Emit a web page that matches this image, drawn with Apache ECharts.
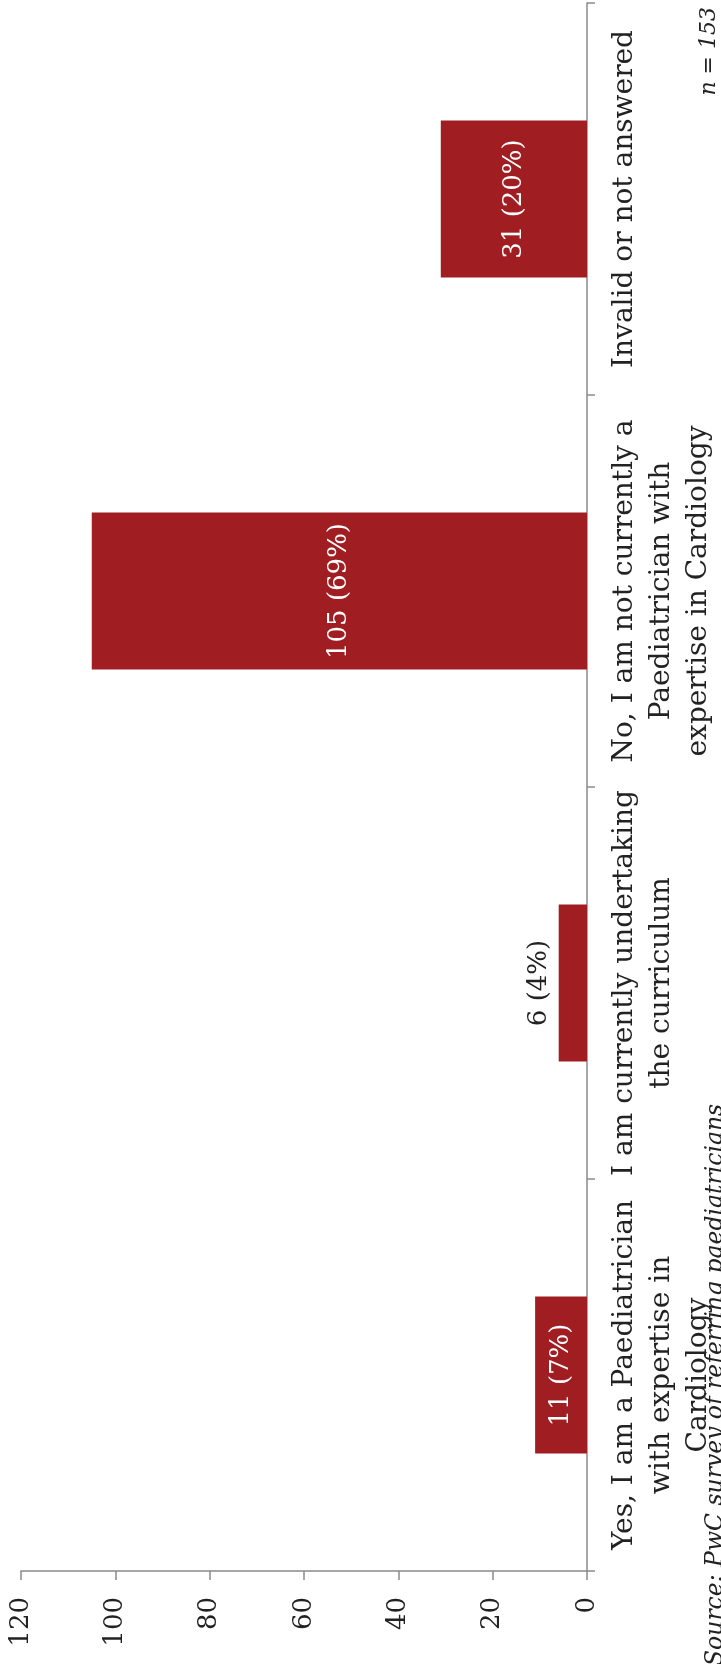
<!DOCTYPE html>
<html>
<head>
<meta charset="utf-8">
<script src="https://cdn.jsdelivr.net/npm/echarts@6/dist/echarts.min.js"></script>
<style>
html,body{margin:0;padding:0;background:#fff;}
#chart{width:721px;height:1664px;}
</style>
</head>
<body>
<div id="chart"></div>
<script>
// Categories, ordered from bottom (first) to top (last) as drawn
const categories = [
  "Yes, I am a Paediatrician\nwith expertise in\nCardiology",
  "I am currently undertaking\nthe curriculum",
  "No, I am not currently a\nPaediatrician with\nexpertise in Cardiology",
  "Invalid or not answered"
];
const counts = [11, 6, 105, 31];
const percents = ["7%", "4%", "69%", "20%"];
const valueTicks = [0, 20, 40, 60, 80, 100, 120];
const noteText = "n = 153";
const sourceText = "Source: PwC survey of referring paediatricians";

const FONT = "DejaVu Serif";
const BAR = "#a01e22";

const chart = echarts.init(document.getElementById('chart'), null, {renderer: 'canvas'});

const seriesData = counts.map((v, i) => {
  const item = { value: v };
  if (v < 10) {
    item.label = {
      position: 'left', distance: 6, color: '#222',
      align: 'center', verticalAlign: 'bottom'
    };
  }
  return item;
});

chart.setOption({
  animation: false,
  backgroundColor: '#fff',
  grid: { left: 21, right: 134, top: 3, bottom: 93, containLabel: false },
  xAxis: {
    type: 'value',
    inverse: true,
    min: valueTicks[0],
    max: valueTicks[valueTicks.length - 1],
    interval: valueTicks[1] - valueTicks[0],
    position: 'bottom',
    splitLine: { show: false },
    axisLine: { show: true, lineStyle: { color: '#8a8a8a', width: 1.5 } },
    axisTick: { show: true, length: 9, lineStyle: { color: '#8a8a8a', width: 1.5 } },
    axisLabel: {
      rotate: 90, margin: 26, align: 'right', verticalAlign: 'middle',
      fontFamily: FONT, fontSize: 26, color: '#222'
    }
  },
  yAxis: {
    type: 'category',
    data: categories,
    position: 'right',
    axisLine: { show: true, lineStyle: { color: '#8a8a8a', width: 1.5 } },
    axisTick: { show: true, length: 8, lineStyle: { color: '#8a8a8a', width: 1.5 } },
    splitLine: { show: false },
    axisLabel: {
      rotate: 90, margin: 19, align: 'center', verticalAlign: 'top',
      fontFamily: FONT, fontSize: 28, lineHeight: 37, color: '#222',
      interval: 0
    }
  },
  series: [{
    type: 'bar',
    data: seriesData,
    barWidth: '40%',
    itemStyle: { color: BAR },
    label: {
      show: true,
      position: 'inside',
      rotate: 90,
      align: 'center',
      verticalAlign: 'middle',
      fontFamily: FONT,
      fontSize: 26,
      color: '#fff',
      formatter: p => counts[p.dataIndex] + ' (' + percents[p.dataIndex] + ')'
    }
  }],
  graphic: [
    {
      type: 'text', x: 709, y: 7, rotation: Math.PI / 2,
      style: { text: noteText, fontFamily: FONT, fontStyle: 'italic', fontSize: 22,
               fill: '#222', align: 'right', verticalAlign: 'middle' }
    },
    {
      type: 'text', x: 716, y: 1666, rotation: Math.PI / 2,
      style: { text: sourceText, fontFamily: FONT, fontStyle: 'italic', fontSize: 23.5,
               fill: '#222', align: 'left', verticalAlign: 'middle' }
    }
  ]
});
</script>
</body>
</html>
